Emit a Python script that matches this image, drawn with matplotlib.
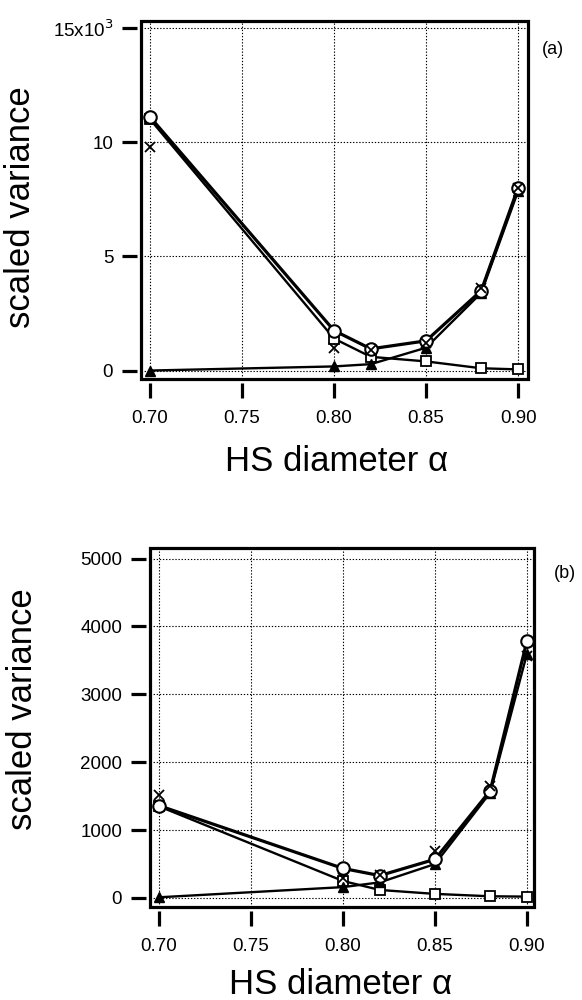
import matplotlib
matplotlib.use("Agg")
import matplotlib.pyplot as plt
from matplotlib.patches import Rectangle

plt.rcParams['font.family'] = ['Liberation Sans', 'DejaVu Sans']

alpha = [0.70, 0.80, 0.82, 0.85, 0.88, 0.90]
xticks = [0.70, 0.75, 0.80, 0.85, 0.90]
xtick_labels = ["0.70", "0.75", "0.80", "0.85", "0.90"]

# panel (a) values in units of 10^3
a_circle = [11.1, 1.75, 0.95, 1.3, 3.5, 8.0]
a_cross = [9.8, 1.0, 0.9, 1.2, 3.6, 8.0]
a_square = [11.0, 1.4, 0.6, 0.4, 0.1, 0.05]
a_triangle = [0.0, 0.18, 0.28, 1.0, 3.4, 7.85]
a_yticks = [0, 5, 10, 15]
a_ytick_labels = ["0", "5", "10", r"15x10$^3$"]

# panel (b) values
b_circle = [1360, 435, 330, 570, 1580, 3790]
b_cross = [1510, 300, 340, 690, 1650, 3570]
b_square = [1350, 250, 118, 60, 25, 20]
b_triangle = [10, 160, 230, 500, 1550, 3600]
b_yticks = [0, 1000, 2000, 3000, 4000, 5000]
b_ytick_labels = ["0", "1000", "2000", "3000", "4000", "5000"]

W, H = 582, 1000
fig = plt.figure(figsize=(W / 100, H / 100), dpi=100)


def px_axes(l, r, t, b):
    return fig.add_axes([l / W, 1 - b / H, (r - l) / W, (b - t) / H])


def draw(ax, circ, cross, sq, tri, yt, ytl, xlim, ylim, tag, tagpos, ylab_pos, xlab_pos):
    ax.set_xlim(*xlim)
    ax.set_ylim(*ylim)
    ax.grid(True, color='black', linestyle=(0, (1.2, 1.6)), linewidth=0.8)
    ax.set_axisbelow(True)
    ax.plot(alpha, sq, color='black', lw=1.7, marker='s', ms=7.5, mfc='white', mec='black', mew=1.3, zorder=3)
    ax.plot(alpha, tri, color='black', lw=1.7, marker='^', ms=7, mfc='black', mec='black', zorder=3)
    ax.plot(alpha, circ, color='black', lw=2.3, marker='o', ms=9, mfc='white', mec='black', mew=1.5, zorder=4)
    ax.plot(alpha, cross, linestyle='none', color='black', marker='x', ms=7.5, mew=1.3, zorder=5)
    ax.set_xticks(xticks)
    ax.set_xticklabels(xtick_labels)
    ax.set_yticks(yt)
    ax.set_yticklabels(ytl)
    for s in ['top', 'right']:
        ax.spines[s].set_visible(False)
    for s in ['left', 'bottom']:
        ax.spines[s].set_position(('outward', 3))
        ax.spines[s].set_visible(False)
    ax.tick_params(axis='both', direction='out', length=11, width=2.3, labelsize=13.5, color='black')
    ax.tick_params(axis='x', pad=8)
    ax.tick_params(axis='y', pad=6)
    ax.add_patch(Rectangle((0, 0), 1, 1, transform=ax.transAxes, fill=False, lw=2.3,
                           edgecolor='black', clip_on=False, zorder=6))
    ax.set_ylabel("scaled variance", fontsize=25)
    ax.yaxis.set_label_coords(*ylab_pos)
    ax.set_xlabel("HS diameter α", fontsize=25)
    ax.xaxis.set_label_coords(*xlab_pos)
    ax.text(tagpos[0], tagpos[1], tag, transform=ax.transAxes, fontsize=13, ha='center', va='center')


ax1 = px_axes(141, 528, 21, 379)
draw(ax1, a_circle, a_cross, a_square, a_triangle, a_yticks, a_ytick_labels,
     (0.6951, 0.9054), (-0.37, 15.3), "(a)", (1.065, 0.92), (-0.27, 0.48), (0.506, -0.185))

ax2 = px_axes(150, 534, 548, 907)
draw(ax2, b_circle, b_cross, b_square, b_triangle, b_yticks, b_ytick_labels,
     (0.6951, 0.9038), (-133, 5155), "(b)", (1.08, 0.93), (-0.29, 0.55), (0.495, -0.17))

fig.savefig("out.png", dpi=100)
